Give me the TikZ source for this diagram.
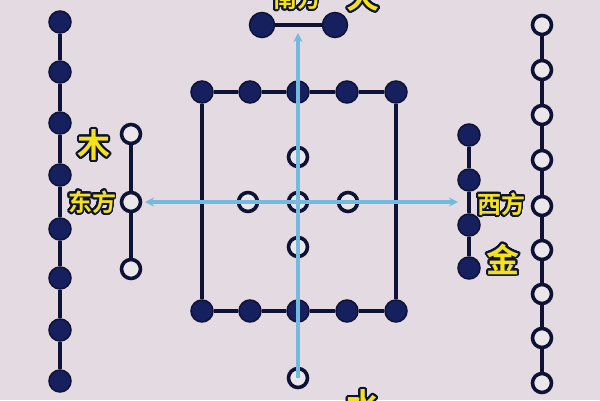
\documentclass[tikz,border=0pt]{standalone}
\usepackage{fontspec}
\usepackage[copies]{contour}
\newfontfamily\cjk{Noto Sans CJK SC}[BoldFont={* Bold}]
\contourlength{1.8pt}
\contournumber{32}
\usetikzlibrary{arrows.meta}
\definecolor{bg}{HTML}{E3DBE1}
\definecolor{navy}{HTML}{17205E}
\definecolor{ink}{HTML}{0E1235}
\definecolor{arrowblue}{HTML}{72BADF}
\definecolor{gold}{HTML}{F4E31C}
\tikzset{
  dot/.style={circle, fill=navy, draw=ink, line width=1.5pt, minimum size=22pt, inner sep=0pt},
  bigdot/.style={dot, minimum size=25pt},
  ring/.style={circle, fill=bg!70!white, draw=ink, line width=3.6pt, minimum size=19pt, inner sep=0pt},
  link/.style={draw=ink, line width=4.6pt},
  axis/.style={draw=arrowblue, line width=3.4pt},
  bigtxt/.style={font=\cjk\bfseries\fontsize{33}{33}\selectfont, text=gold, inner sep=0pt},
  smalltxt/.style={font=\cjk\bfseries\fontsize{24}{24}\selectfont, text=gold, inner sep=0pt}
}
\begin{document}
\begin{tikzpicture}[x=1pt,y=-1pt]
\useasboundingbox (0,0) rectangle (600,400);
\fill[bg] (0,0) rectangle (600,400);

% left column: 8 filled dots
\foreach \y [count=\i] in {22,72,123,175,229,278,330,381}
  \node[dot] (L\i) at (60,\y) {};
\foreach \i [evaluate=\i as \j using int(\i+1)] in {1,...,7}
  \draw[link] (L\i) -- (L\j);

% right column: 9 rings
\foreach \y [count=\i] in {25,70,115,160,206,250,294,338,383}
  \node[ring] (R\i) at (542,\y) {};
\foreach \i [evaluate=\i as \j using int(\i+1)] in {1,...,8}
  \draw[link] (R\i) -- (R\j);

% wood: 3 rings
\foreach \y [count=\i] in {134,202,269}
  \node[ring] (W\i) at (131,\y) {};
\draw[link] (W1) -- (W2);
\draw[link] (W2) -- (W3);

% metal: 4 dots
\foreach \y [count=\i] in {135,180,225,268}
  \node[dot] (M\i) at (469,\y) {};
\foreach \i [evaluate=\i as \j using int(\i+1)] in {1,...,3}
  \draw[link] (M\i) -- (M\j);

% fire: 2 dots
\node[bigdot] (F1) at (262,25) {};
\node[bigdot] (F2) at (335,25) {};
\draw[link] (F1) -- (F2);

% water: 1 ring
\node[ring] (S) at (298,378) {};

% central rectangle of 10 dots
\foreach \x [count=\i] in {202,250,298,347,396}{
  \node[dot] (T\i) at (\x,92) {};
  \node[dot] (B\i) at (\x,311) {};
}
\foreach \i [evaluate=\i as \j using int(\i+1)] in {1,...,4}{
  \draw[link] (T\i) -- (T\j);
  \draw[link] (B\i) -- (B\j);
}
\draw[link] (T1) -- (B1);
\draw[link] (T5) -- (B5);

% centre cross of 5 rings
\node[ring] (C) at (298,202) {};
\node[ring] (CN) at (298,157) {};
\node[ring] (CS) at (298,247) {};
\node[ring] (CW) at (248,202) {};
\node[ring] (CE) at (348,202) {};
\draw[link] (C) -- (CN);
\draw[link] (C) -- (CS);
\draw[link] (C) -- (CW);
\draw[link] (C) -- (CE);

% blue axes
\coordinate (tipN) at (298,33);
\coordinate (tipW) at (145,202);
\coordinate (tipE) at (458,202);
\draw[axis, -{Stealth[length=9pt,width=9pt]}] (S.center) -- (tipN);
\draw[axis, {Stealth[length=9pt,width=9pt]}-{Stealth[length=9pt,width=9pt]}] (tipW) -- (tipE);

% labels
\node[bigtxt] (mu) at (94,146) {\contour{ink}{木}};
\node[smalltxt] (dongfang) at (92,203) {\contour{ink}{东方}};
\node[smalltxt] (xifang) at (501,205) {\contour{ink}{西方}};
\node[bigtxt] (jin) at (503,260) {\contour{ink}{金}};
\node[smalltxt] (nanfang) at (297,-1) {\contour{ink}{南方}};
\node[bigtxt] (huo) at (363,-3) {\contour{ink}{火}};
\node[bigtxt] (shui) at (363,406) {\contour{ink}{水}};
\end{tikzpicture}
\end{document}
